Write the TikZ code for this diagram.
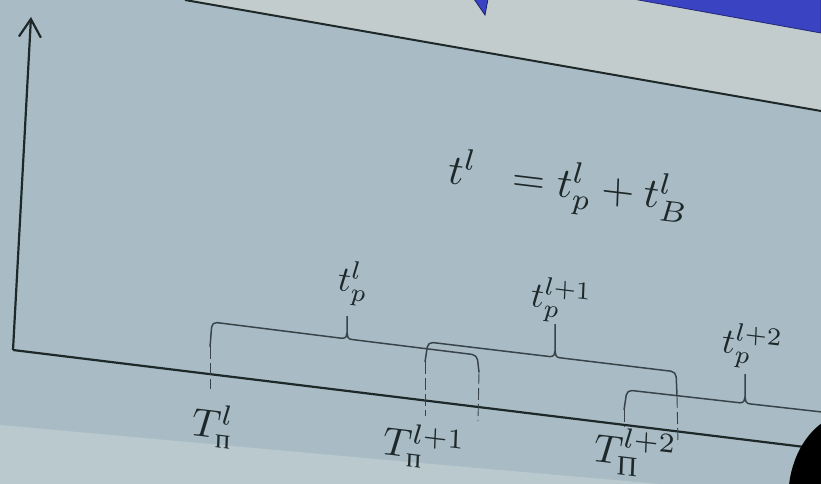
\documentclass[tikz,border=0pt]{standalone}
\usepackage{amsmath}
\usepackage{fontspec}
\newfontfamily\cyrfont{Liberation Serif}
\usetikzlibrary{arrows.meta}
\definecolor{bgmain}{HTML}{A9BCC6}
\definecolor{bgtop}{HTML}{C3CCCD}
\definecolor{bglow}{HTML}{B9C9CE}
\definecolor{slideblue}{HTML}{3A44C2}
\definecolor{ink}{HTML}{1E2829}
\definecolor{brkink}{HTML}{38444A}
\tikzset{
  axis/.style={draw=ink, line width=2.2pt},
  brk/.style={draw=brkink, line width=1.5pt, rounded corners=5pt},
  tick/.style={draw=brkink, line width=0.9pt, dash pattern=on 12pt off 4pt},
  lbl/.style={inner sep=0pt, anchor=base west, yslant=-0.12, xslant=0.04, text=ink},
  eqs/.style={lbl, scale=4.25},
  tps/.style={lbl, scale=3.6},
  Ts/.style={lbl, scale=4.0},
}
\begin{document}
\begin{tikzpicture}[x=1pt,y=-1pt]
\useasboundingbox (0,0) rectangle (821,484);
% backgrounds
\fill[bgmain] (0,0) rectangle (821,484);
\fill[bgtop] (185,0) -- (821,111) -- (821,0) -- cycle;
\fill[bglow] (0,425) -- (420,463) -- (660,484) -- (0,484) -- cycle;
\fill[slideblue, draw=slideblue!60!black, line width=0.8pt] (633,-1) -- (821,33) -- (821,-1) -- cycle;
\fill[slideblue, draw=slideblue!50!black, line width=0.8pt] (474,-1) -- (485,15) -- (488,-1) -- cycle;
\draw[draw=ink, line width=2pt] (185,0) -- (821,111);

% axes
\coordinate (O) at (13,350);
\coordinate (Ytop) at (31,17);
\coordinate (Xend) at (821,449);
\draw[axis, -{Straight Barb[length=18pt,width=22pt,line width=2.2pt]}] (O) -- (Ytop);
\draw[axis] (O) -- (Xend);

% bracket 1
\coordinate (b1l) at (210,347);
\coordinate (b1c) at (212,322);
\coordinate (b1a) at (342,338.3);
\coordinate (b1t) at (347,333);
\coordinate (b1top) at (347,316);
\coordinate (b1b) at (352,339.5);
\coordinate (b1d) at (477,355);
\coordinate (b1r) at (479,372);
\draw[brk] (b1l) -- (b1c) -- (b1a);
\draw[brk, rounded corners=0pt] (b1a) .. controls (346,338.3) and (347,336) .. (b1t) -- (b1top);
\draw[brk, rounded corners=0pt] (b1t) .. controls (347,336) and (348,339.5) .. (b1b);
\draw[brk] (b1b) -- (b1d) -- (b1r);

% bracket 2
\coordinate (b2l) at (425,362);
\coordinate (b2c) at (428,342);
\coordinate (b2a) at (550,356.6);
\coordinate (b2t) at (555,351);
\coordinate (b2top) at (555,324);
\coordinate (b2b) at (560,357.8);
\coordinate (b2d) at (676,371.8);
\coordinate (b2r) at (677,396);
\draw[brk] (b2l) -- (b2c) -- (b2a);
\draw[brk, rounded corners=0pt] (b2a) .. controls (554,356.6) and (555,354) .. (b2t) -- (b2top);
\draw[brk, rounded corners=0pt] (b2t) .. controls (555,354) and (556,357.8) .. (b2b);
\draw[brk] (b2b) -- (b2d) -- (b2r);

% bracket 3
\coordinate (b3l) at (624,410);
\coordinate (b3c) at (627,390);
\coordinate (b3a) at (740,402.8);
\coordinate (b3t) at (745,397);
\coordinate (b3top) at (745,374);
\coordinate (b3b) at (750,403.9);
\coordinate (b3e) at (822,412);
\draw[brk] (b3l) -- (b3c) -- (b3a);
\draw[brk, rounded corners=0pt] (b3a) .. controls (744,402.8) and (745,400) .. (b3t) -- (b3top);
\draw[brk, rounded corners=0pt] (b3t) .. controls (745,400) and (746,403.9) .. (b3b);
\draw[brk] (b3b) -- (b3e);

% ticks
\coordinate (k1) at (210,389);
\coordinate (k2) at (478,421);
\coordinate (k3) at (425,416);
\coordinate (k4) at (678,444);
\coordinate (k5) at (624,427);
\draw[tick] (b1l) -- (k1);
\draw[tick] (b1r) -- (k2);
\draw[tick] (b2l) -- (k3);
\draw[tick] (b2r) -- (k4);
\draw[tick] (b3l) -- (k5);

% labels
\node[eqs] (eq) at (447,183) {$t^{l}\;\;= t^{l}_{p} + t^{l}_{B}$};
\node[tps] (tp1) at (337,290) {$t^{l}_{p}$};
\node[tps] (tp2) at (530,306) {$t^{l+1}_{p}$};
\node[tps] (tp3) at (721,352) {$t^{l+2}_{p}$};
\node[Ts] (T1) at (191,435) {$T^{l}_{\text{\cyrfont п}}$};
\node[Ts] (T2) at (382,454) {$T^{l+1}_{\text{\cyrfont п}}$};
\node[Ts] (T3) at (593,461) {$T^{l+2}_{\text{\cyrfont П}}$};

% dark object in the bottom right corner
\fill[black] (822,423) .. controls (805,435) and (792,458) .. (789,485) -- (822,485) -- cycle;
\end{tikzpicture}
\end{document}
